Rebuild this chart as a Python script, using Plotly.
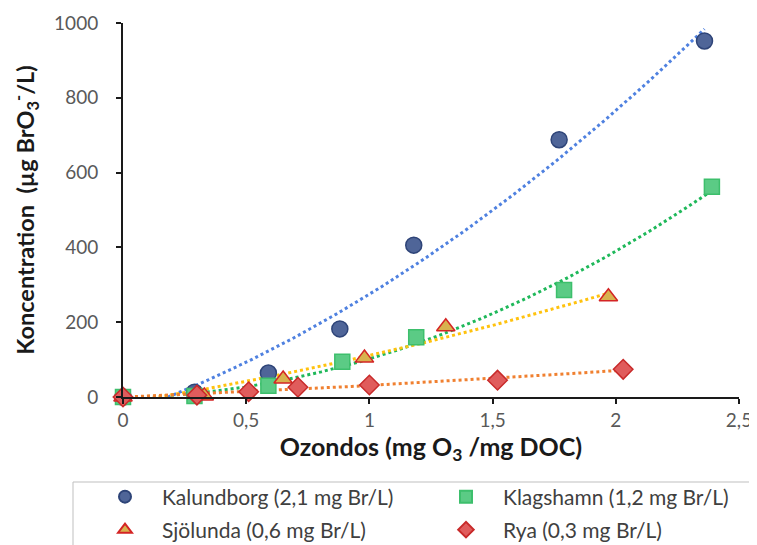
import numpy as np
import plotly.graph_objects as go

x_tickvals = [0, 0.5, 1, 1.5, 2, 2.5]
x_ticktext = ["0", "0,5", "1", "1,5", "2", "2,5"]
y_tickvals = [0, 200, 400, 600, 800, 1000]

kal_x = [0, 0.29, 0.59, 0.88, 1.18, 1.77, 2.36]
kal_y = [0, 13, 64, 182, 406, 688, 952]
kla_x = [0, 0.29, 0.59, 0.89, 1.19, 1.79, 2.39]
kla_y = [0, 3, 30, 94, 160, 286, 562]
sjo_x = [0, 0.33, 0.65, 0.98, 1.31, 1.97]
sjo_y = [0, 3, 48, 104, 188, 268]
rya_x = [0, 0.30, 0.51, 0.71, 1.0, 1.52, 2.03]
rya_y = [0, 5, 14, 26, 32, 45, 74]

names = ["Kalundborg (2,1 mg Br/L)", "Klagshamn (1,2 mg Br/L)",
         "Sjölunda (0,6 mg Br/L)", "Rya (0,3 mg Br/L)"]

series = [
    dict(x=kal_x, y=kal_y, name=names[0], symbol="circle", size=16,
         fill="#4F6598", edge="#2E4478", trend="#4F81E0", legend="legend"),
    dict(x=kla_x, y=kla_y, name=names[1], symbol="square", size=15,
         fill="#5BCB85", edge="#3DBF6C", trend="#1FB85A", legend="legend"),
    dict(x=sjo_x, y=sjo_y, name=names[2], symbol="triangle-up", size=16,
         fill="#D8B24E", edge="#D42424", trend="#FFC20E", legend="legend2"),
    dict(x=rya_x, y=rya_y, name=names[3], symbol="diamond", size=15,
         fill="#E05C5C", edge="#C82A2A", trend="#F08030", legend="legend2"),
]

fig = go.Figure()

# trendlines (2nd order polynomial fits, like Excel)
for s in series:
    coef = np.polyfit(s["x"], s["y"], 2)
    xs = np.linspace(min(s["x"]), max(s["x"]), 200)
    ys = np.polyval(coef, xs)
    fig.add_trace(go.Scatter(x=xs, y=ys, mode="lines", showlegend=False,
                             hoverinfo="skip",
                             line=dict(color=s["trend"], width=3, dash="dot")))

for s in series:
    fig.add_trace(go.Scatter(x=s["x"], y=s["y"], mode="markers", name=s["name"],
                             cliponaxis=False, legend=s["legend"],
                             marker=dict(symbol=s["symbol"], size=s["size"],
                                         color=s["fill"],
                                         line=dict(color=s["edge"], width=1.5))))

# plot area in figure px: left 115, right 731, top 15, bottom 389
PW, PH = 616.0, 374.0
def px_x(p):
    return (p - 115) / PW
def px_y(p):
    return (389 - p) / PH

leg_common = dict(orientation="h", xanchor="left", yanchor="middle",
                  entrywidth=262, entrywidthmode="pixels", itemwidth=64,
                  font=dict(size=21, color="#404040"), itemsizing="constant",
                  bgcolor="rgba(0,0,0,0)", borderwidth=0)

fig.update_layout(
    width=749, height=537,
    margin=dict(l=115, r=18, t=15, b=148, autoexpand=False),
    plot_bgcolor="white", paper_bgcolor="white",
    font=dict(family="Lato, Open Sans, sans-serif", size=19, color="#595959"),
    showlegend=True,
    legend=dict(x=px_x(80), y=px_y(489), **leg_common),
    legend2=dict(x=px_x(80), y=px_y(522), **leg_common),
    xaxis=dict(range=[0, 2.5], tickvals=x_tickvals, ticktext=x_ticktext,
               showgrid=False, zeroline=False, showline=True, linecolor="#1a1a1a",
               linewidth=2, ticks="outside", ticklen=5, tickwidth=2,
               tickcolor="#1a1a1a", automargin=False,
               title=dict(text="<b>Ozondos (mg O<sub>3</sub> /mg DOC)</b>",
                          font=dict(size=25, color="#1a1a1a"), standoff=4)),
    yaxis=dict(range=[0, 1000], tickvals=y_tickvals,
               showgrid=False, zeroline=False, showline=True, linecolor="#1a1a1a",
               linewidth=2, ticks="outside", ticklen=5, tickwidth=2,
               tickcolor="#1a1a1a", automargin=False, ticklabelstandoff=14,
               title=dict(text="<b>Koncentration  (µg BrO<sub>3</sub><sup>-</sup>/L)</b>",
                          font=dict(size=23.5, color="#1a1a1a"), standoff=16)),
    shapes=[dict(type="rect", xref="paper", yref="paper",
                 x0=px_x(65), x1=px_x(760), y0=px_y(474), y1=px_y(560),
                 line=dict(color="#BFBFBF", width=1))],
)

fig.write_html("out.html")
